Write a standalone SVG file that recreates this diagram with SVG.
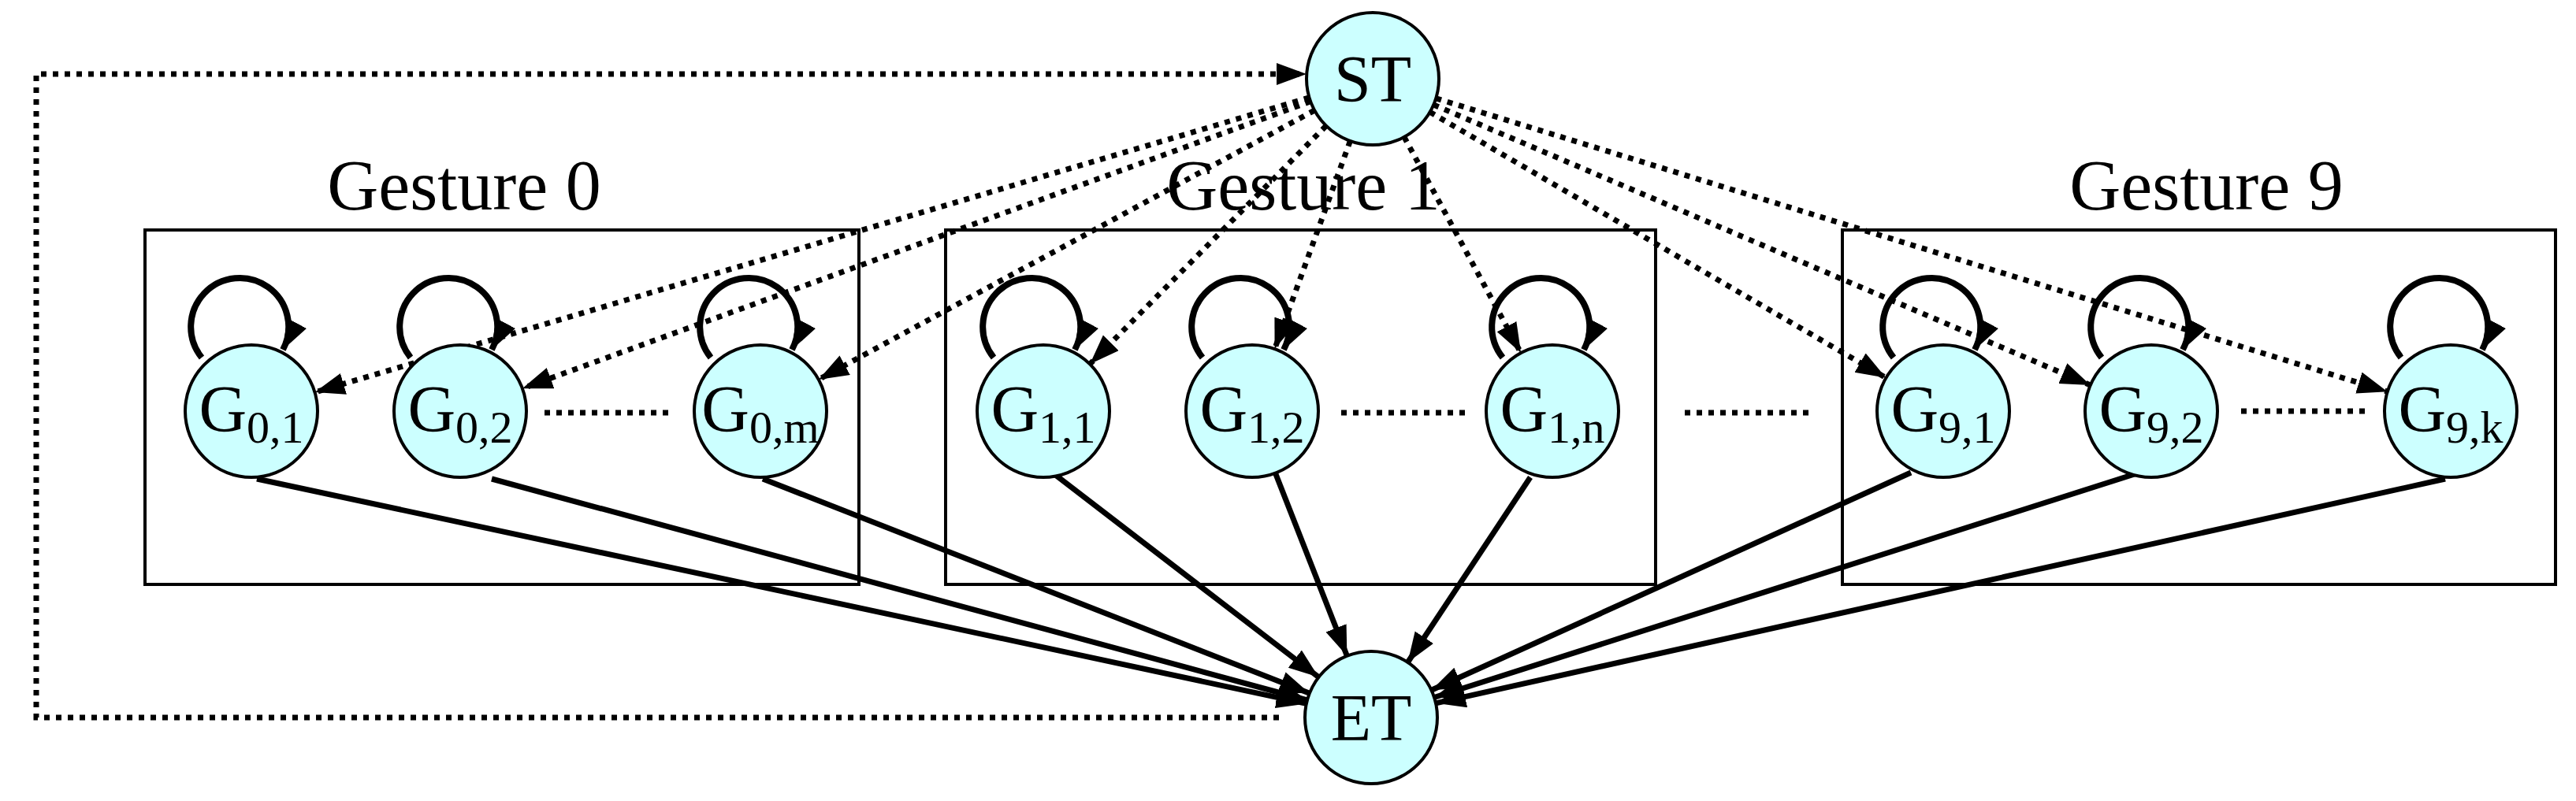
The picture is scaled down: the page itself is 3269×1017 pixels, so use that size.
<svg xmlns="http://www.w3.org/2000/svg" xmlns:xlink="http://www.w3.org/1999/xlink" width="3269" height="1017" viewBox="0 0 3269 1017">
<style>
.bg{fill:#fff}
.box{fill:none;stroke:#000;stroke-width:4}
.node{fill:#ccffff;stroke:#000;stroke-width:4}
.lbl{font-family:"Liberation Serif",serif;font-size:84px;text-anchor:middle;fill:#000}
.sub{font-size:58px}
.title{font-family:"Liberation Serif",serif;font-size:90px;text-anchor:middle;fill:#000}
.dot{fill:none;stroke:#000;stroke-width:7;stroke-dasharray:7 8}
.solid{fill:none;stroke:#000;stroke-width:7}
.loop{fill:none;stroke:#000;stroke-width:8}
</style>
<defs>
<marker id="ah" markerUnits="userSpaceOnUse" markerWidth="40" markerHeight="30" refX="38" refY="14" orient="auto">
<path d="M0,0 L38,14 L0,28 z" fill="#000"/>
</marker>
<path id="selfloop" class="loop" d="M-63,-68 A62 62 0 1 1 40,-78" marker-end="url(#ah)"/>
</defs>
<rect class="bg" width="3269" height="1017"/>
<g id="boxes">
<rect class="box" x="184" y="292" width="906" height="450"/>
<text class="title" x="589" y="266">Gesture 0</text>
<rect class="box" x="1200" y="292" width="901" height="450"/>
<text class="title" x="1654" y="266">Gesture 1</text>
<rect class="box" x="2338" y="292" width="905" height="450"/>
<text class="title" x="2800" y="266">Gesture 9</text>
</g>
<g id="connectors">
<polyline class="dot" points="1623,911 46,911 46,94 1658,94" marker-end="url(#ah)"/>
<line class="dot" x1="1661.5" y1="123.9" x2="399.5" y2="498.1" marker-end="url(#ah)"/>
<line class="dot" x1="1663.1" y1="128.8" x2="662.9" y2="493.2" marker-end="url(#ah)"/>
<line class="dot" x1="1668.2" y1="140.1" x2="1038.8" y2="481.9" marker-end="url(#ah)"/>
<line class="dot" x1="1682.9" y1="159.7" x2="1383.1" y2="462.3" marker-end="url(#ah)"/>
<line class="dot" x1="1713.4" y1="179" x2="1617.6" y2="443" marker-end="url(#ah)"/>
<line class="dot" x1="1781.9" y1="173.9" x2="1930.1" y2="448.1" marker-end="url(#ah)"/>
<line class="dot" x1="1814.6" y1="142.3" x2="2393.4" y2="479.7" marker-end="url(#ah)"/>
<line class="dot" x1="1819.2" y1="133" x2="2652.8" y2="489" marker-end="url(#ah)"/>
<line class="dot" x1="1822.3" y1="124.8" x2="3029.7" y2="497.2" marker-end="url(#ah)"/>
<line class="solid" x1="326" y1="608" x2="1657.9" y2="893.4" marker-end="url(#ah)"/>
<line class="solid" x1="624" y1="608" x2="1658.9" y2="889" marker-end="url(#ah)"/>
<line class="solid" x1="968" y1="608" x2="1661.8" y2="880.3" marker-end="url(#ah)"/>
<line class="solid" x1="1338" y1="602" x2="1673.4" y2="859.8" marker-end="url(#ah)"/>
<line class="solid" x1="1619" y1="602" x2="1709.4" y2="832.8" marker-end="url(#ah)"/>
<line class="solid" x1="1942" y1="606" x2="1786.4" y2="841" marker-end="url(#ah)"/>
<line class="solid" x1="2425" y1="600" x2="1816.5" y2="876.3" marker-end="url(#ah)"/>
<line class="solid" x1="2715" y1="600" x2="1820" y2="885.5" marker-end="url(#ah)"/>
<line class="solid" x1="3103" y1="608" x2="1822" y2="892.8" marker-end="url(#ah)"/>
<line class="dot" x1="691" y1="524" x2="849" y2="524"/>
<line class="dot" x1="1702" y1="524" x2="1860" y2="524"/>
<line class="dot" x1="2138" y1="524" x2="2298" y2="524"/>
<line class="dot" x1="2844" y1="522" x2="3001" y2="522"/>
</g>
<g id="ST"><circle class="node" cx="1742" cy="100" r="84"/><text class="lbl" x="1742" y="129">ST</text></g>
<g id="ET"><circle class="node" cx="1740" cy="911" r="84"/><text class="lbl" x="1740" y="940">ET</text></g>
<g id="G01" transform="translate(319,522)"><use xlink:href="#selfloop"/><circle class="node" r="84"/><text class="lbl" x="0" y="26">G<tspan class="sub" dy="14">0,1</tspan></text></g>
<g id="G02" transform="translate(584,522)"><use xlink:href="#selfloop"/><circle class="node" r="84"/><text class="lbl" x="0" y="26">G<tspan class="sub" dy="14">0,2</tspan></text></g>
<g id="G0m" transform="translate(965,522)"><use xlink:href="#selfloop"/><circle class="node" r="84"/><text class="lbl" x="0" y="26">G<tspan class="sub" dy="14">0,m</tspan></text></g>
<g id="G11" transform="translate(1324,522)"><use xlink:href="#selfloop"/><circle class="node" r="84"/><text class="lbl" x="0" y="26">G<tspan class="sub" dy="14">1,1</tspan></text></g>
<g id="G12" transform="translate(1589,522)"><use xlink:href="#selfloop"/><circle class="node" r="84"/><text class="lbl" x="0" y="26">G<tspan class="sub" dy="14">1,2</tspan></text></g>
<g id="G1n" transform="translate(1970,522)"><use xlink:href="#selfloop"/><circle class="node" r="84"/><text class="lbl" x="0" y="26">G<tspan class="sub" dy="14">1,n</tspan></text></g>
<g id="G91" transform="translate(2466,522)"><use xlink:href="#selfloop"/><circle class="node" r="84"/><text class="lbl" x="0" y="26">G<tspan class="sub" dy="14">9,1</tspan></text></g>
<g id="G92" transform="translate(2730,522)"><use xlink:href="#selfloop"/><circle class="node" r="84"/><text class="lbl" x="0" y="26">G<tspan class="sub" dy="14">9,2</tspan></text></g>
<g id="G9k" transform="translate(3110,522)"><use xlink:href="#selfloop"/><circle class="node" r="84"/><text class="lbl" x="0" y="26">G<tspan class="sub" dy="14">9,k</tspan></text></g>
</svg>
